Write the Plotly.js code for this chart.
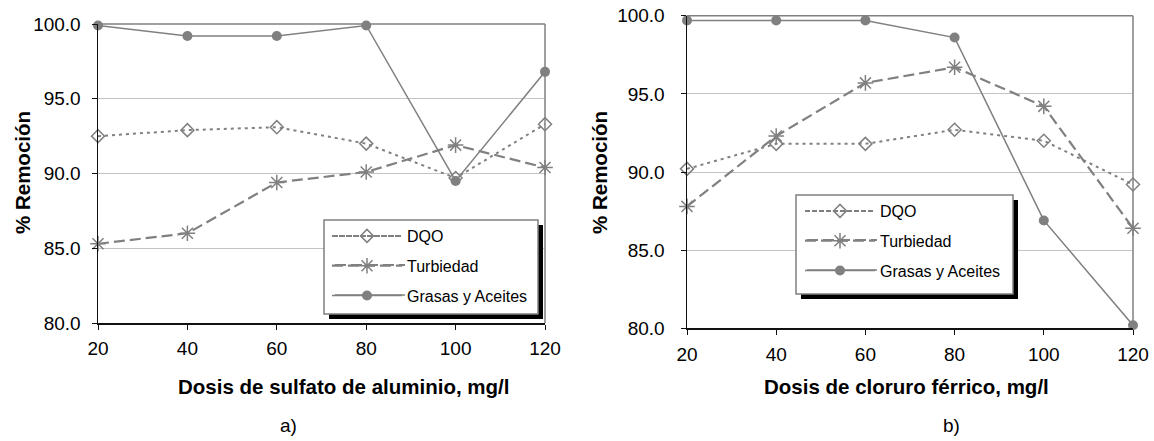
<!DOCTYPE html>
<html>
<head>
<meta charset="utf-8">
<script src="https://cdn.plot.ly/plotly-3.0.1.min.js"></script>
<style>
  html, body { margin: 0; padding: 0; background: #ffffff; }
  #chart { width: 1154px; height: 441px; }
</style>
</head>
<body>
<div id="chart"></div>
<script>
// Dosis de coagulante (mg/l)
const dosis = [20, 40, 60, 80, 100, 120];

// a) Sulfato de aluminio: % de remoción
const dqoSulfato = [92.5, 92.9, 93.1, 92.0, 89.7, 93.3];
const turbiedadSulfato = [85.3, 86.0, 89.4, 90.1, 91.9, 90.4];
const grasasSulfato = [99.9, 99.2, 99.2, 99.9, 89.5, 96.8];

// b) Cloruro férrico: % de remoción
const dqoCloruro = [90.2, 91.8, 91.8, 92.7, 92.0, 89.2];
const turbiedadCloruro = [87.8, 92.3, 95.7, 96.7, 94.2, 86.4];
const grasasCloruro = [99.7, 99.7, 99.7, 98.6, 86.9, 80.2];

const seriesNames = ['DQO', 'Turbiedad', 'Grasas y Aceites'];
const yTicks = [80, 85, 90, 95, 100];

const W = 1154, H = 441;
const px = v => v / W;          // pixel column -> paper x
const py = v => 1 - v / H;      // pixel row -> paper y

const FONT = 'Liberation Sans, Arial, sans-serif';
const GRAY = '#808080';

const styles = [
  { line: { color: GRAY, width: 2, dash: '3px,4px' },
    marker: { symbol: 'diamond-open', size: 10, color: GRAY, line: { width: 1.5, color: GRAY } } },
  { line: { color: GRAY, width: 2.2, dash: '11px,5px' },
    marker: { symbol: 'asterisk-open', size: 13, color: GRAY, line: { width: 1.5, color: GRAY } } },
  { line: { color: GRAY, width: 1.5 },
    marker: { symbol: 'circle', size: 10, color: GRAY } }
];

function makeTraces(values, xa, ya, legendId) {
  return values.map((v, i) => ({
    type: 'scatter', mode: 'lines+markers',
    x: dosis, y: v, xaxis: xa, yaxis: ya,
    name: seriesNames[i], legend: legendId, legendgroup: legendId + i,
    line: styles[i].line, marker: styles[i].marker,
    cliponaxis: false, hoverinfo: 'x+y+name'
  }));
}

const data = [
  ...makeTraces([dqoSulfato, turbiedadSulfato, grasasSulfato], 'x', 'y', 'legend'),
  ...makeTraces([dqoCloruro, turbiedadCloruro, grasasCloruro], 'x2', 'y2', 'legend2')
];

function xAxis(domain, standoff) {
  return {
    domain: domain, range: [20, 120], dtick: 20, tick0: 20,
    showgrid: false, zeroline: false,
    showline: true, linecolor: '#111', linewidth: 1.5,
    ticks: 'outside', ticklen: 5, tickcolor: '#111', tickwidth: 1,
    ticklabelstandoff: standoff,
    tickfont: { family: FONT, size: 19, color: '#000' },
    automargin: false, fixedrange: true
  };
}
function yAxis(domain, anchor, standoff) {
  return {
    domain: domain, anchor: anchor, range: [80, 100],
    tickvals: yTicks, tickformat: '.1f',
    showgrid: true, gridcolor: '#c4c4c4', gridwidth: 1, zeroline: false,
    showline: true, linecolor: '#111', linewidth: 1.5,
    ticks: 'outside', ticklen: 5, tickcolor: '#111', tickwidth: 1,
    ticklabelstandoff: standoff,
    tickfont: { family: FONT, size: 19, color: '#000' },
    automargin: false, fixedrange: true
  };
}

function frame(xr, yr) {
  // gray top and right border of the plot area
  return [
    { type: 'line', xref: xr + ' domain', yref: yr + ' domain', x0: 0, x1: 1, y0: 1, y1: 1,
      line: { color: GRAY, width: 1.5 } },
    { type: 'line', xref: xr + ' domain', yref: yr + ' domain', x0: 1, x1: 1, y0: 0, y1: 1,
      line: { color: GRAY, width: 1.5 } }
  ];
}

// legend frame with a drop shadow, plus full-length key lines
function legendBox(l, t, r, b, rows) {
  const out = [
    { type: 'rect', xref: 'paper', yref: 'paper', layer: 'above',
      x0: px(l + 5), x1: px(r + 5), y0: py(b + 5), y1: py(t + 5),
      fillcolor: '#000', line: { width: 0 } },
    { type: 'rect', xref: 'paper', yref: 'paper', layer: 'above',
      x0: px(l), x1: px(r), y0: py(b), y1: py(t),
      fillcolor: '#fff', line: { color: GRAY, width: 1.5 } }
  ];
  rows.forEach((ry, i) => {
    out.push({ type: 'line', xref: 'paper', yref: 'paper', layer: 'above',
      x0: px(l + 11), x1: px(l + 81), y0: py(ry), y1: py(ry),
      line: Object.assign({}, styles[i].line) });
  });
  return out;
}

function legendCfg(l, t) {
  return {
    x: px(l), y: py(t), xanchor: 'left', yanchor: 'top',
    bgcolor: 'rgba(0,0,0,0)', borderwidth: 0,
    font: { family: FONT, size: 16, color: '#000' },
    traceorder: 'grouped', tracegroupgap: 6, itemwidth: 70
  };
}

const text = (t, x, y, opts) => Object.assign({
  text: t, xref: 'paper', yref: 'paper', x: px(x), y: py(y),
  xanchor: 'center', yanchor: 'middle', showarrow: false,
  font: { family: FONT, size: 19, color: '#000' }
}, opts || {});
const titleFont = { family: FONT, size: 20.5, color: '#000' };

const layout = {
  width: W, height: H,
  margin: { l: 0, r: 0, t: 0, b: 0, pad: 0 },
  paper_bgcolor: '#fff', plot_bgcolor: '#fff',
  showlegend: true,
  xaxis: xAxis([px(98), px(545)], 3),
  yaxis: yAxis([py(323), py(24)], 'x', 7),
  xaxis2: Object.assign(xAxis([px(687), px(1133)], 3), { anchor: 'y2' }),
  yaxis2: yAxis([py(328.3), py(15.7)], 'x2', 12),
  legend: legendCfg(327, 219),
  legend2: legendCfg(800, 194),
  shapes: [
    ...frame('x', 'y'), ...frame('x2', 'y2'),
    ...legendBox(324, 220, 538, 314, [236, 265, 295]),
    ...legendBox(796, 195, 1013, 294, [211, 240, 270])
  ],
  annotations: [
    text('<b>% Remoción</b>', 22, 173, { textangle: -90, font: titleFont }),
    text('<b>% Remoción</b>', 599, 172, { textangle: -90, font: titleFont }),
    text('<b>Dosis de sulfato de aluminio, mg/l</b>', 343, 386, { font: titleFont }),
    text('<b>Dosis de cloruro férrico, mg/l</b>', 906, 386, { font: titleFont }),
    text('a)', 288, 425),
    text('b)', 951, 425)
  ]
};

Plotly.newPlot('chart', data, layout, { displayModeBar: false, staticPlot: true });
</script>
</body>
</html>
